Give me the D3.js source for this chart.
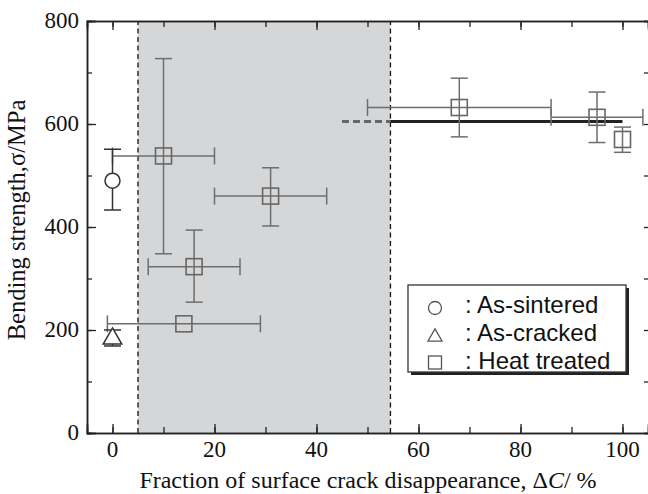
<!DOCTYPE html>
<html>
<head>
<meta charset="utf-8">
<script src="https://cdn.jsdelivr.net/npm/d3@7"></script>
<style>
  body { margin: 0; background: #fff; }
  text { font-family: "Liberation Serif", "Times New Roman", serif; }
  .legend text { font-family: "Liberation Sans", Arial, sans-serif; }
</style>
</head>
<body>
<svg id="chart" width="648" height="494"></svg>
<script>
// shaded band where cracks heal (x range, %)
let band = [5, 54.5];

// reference strength level: dashed part then solid part
let refLevel = 605;
let refDashed = [45, 54.5];
let refSolid = [54.5, 100];

// as-sintered: x, y, yLow, yHigh
let sintered = [
    { x: 0, y: 490, ylo: 433, yhi: 551 }
];

// as-cracked
let cracked = [
    { x: 0, y: 185, ylo: 169, yhi: 200 }
];

// heat treated: x, y, x error range, y error range
let heatX    = [10, 31, 16, 14, 68, 95, 100];
let heatY    = [538, 460, 323, 212, 632, 613, 570];
let heatXlo  = [0, 20, 7, -1, 50, 86, null];
let heatXhi  = [20, 42, 25, 29, 86, 104, null];
let heatYlo  = [348, 402, 254, null, 575, 564, 545];
let heatYhi  = [727, 515, 394, null, 689, 662, 594];

let legendLabels = [": As-sintered", ": As-cracked", ": Heat treated"];

let xTicks = [0, 20, 40, 60, 80, 100];
let yTicks = [0, 200, 400, 600, 800];

let padL = 87, padR = 648, padT = 21, padB = 433;

let svg = d3.select('#chart');

let x = d3.scaleLinear().domain([-5, 105]).range([padL, padR]);
let y = d3.scaleLinear().domain([0, 800]).range([padB, padT]);

// shaded region
svg.append("rect")
    .attr("x", x(band[0]))
    .attr("y", y(800))
    .attr("width", x(band[1]) - x(band[0]))
    .attr("height", y(0) - y(800))
    .attr("fill", "#d5d6d8");

band.forEach(function (b) {
    svg.append("line")
        .attr("x1", x(b)).attr("x2", x(b))
        .attr("y1", y(0)).attr("y2", y(800))
        .attr("stroke", "#111")
        .attr("stroke-width", 1.3)
        .attr("stroke-dasharray", "5,3.5");
});

// axes with inward ticks
function inward(axis, size) {
    return axis.tickSize(size).tickFormat("");
}

let xMinor = d3.range(0, 110, 10);
let yMinor = d3.range(0, 900, 100);

svg.append("g").attr("transform", "translate(0," + padB + ")")
    .call(inward(d3.axisTop(x).tickValues(xMinor), 6));
svg.append("g").attr("transform", "translate(0," + padB + ")")
    .call(inward(d3.axisTop(x).tickValues(xTicks), 9));
svg.append("g").attr("transform", "translate(0," + padT + ")")
    .call(inward(d3.axisBottom(x).tickValues(xMinor), 6));
svg.append("g").attr("transform", "translate(0," + padT + ")")
    .call(inward(d3.axisBottom(x).tickValues(xTicks), 9));
svg.append("g").attr("transform", "translate(" + padL + ",0)")
    .call(inward(d3.axisRight(y).tickValues(yMinor), 5));
svg.append("g").attr("transform", "translate(" + padL + ",0)")
    .call(inward(d3.axisRight(y).tickValues(yTicks), 9));
svg.append("g").attr("transform", "translate(" + (padR + 2) + ",0)")
    .call(inward(d3.axisLeft(y).tickValues(yMinor), 6));

svg.selectAll(".domain").attr("stroke", "#222").attr("stroke-width", 1.5);
svg.selectAll(".tick line").attr("stroke", "#222").attr("stroke-width", 1.3);

// tick labels
svg.append("g").selectAll("text")
    .data(xTicks).enter().append("text")
    .attr("x", function (d) { return x(d); })
    .attr("y", 457)
    .attr("text-anchor", "middle")
    .attr("font-size", 23)
    .attr("fill", "#111")
    .text(function (d) { return d; });

svg.append("g").selectAll("text")
    .data(yTicks).enter().append("text")
    .attr("x", 79)
    .attr("y", function (d) { return y(d) + 7; })
    .attr("text-anchor", "end")
    .attr("font-size", 23)
    .attr("fill", "#111")
    .text(function (d) { return d; });

// axis titles
let xt = svg.append("text")
    .attr("x", 368).attr("y", 488)
    .attr("text-anchor", "middle")
    .attr("font-size", 24)
    .attr("fill", "#111");
xt.append("tspan").text("Fraction of surface crack disappearance, \u0394");
xt.append("tspan").attr("font-style", "italic").text("C");
xt.append("tspan").text("/ %");

svg.append("text")
    .attr("transform", "translate(25,220) rotate(-90)")
    .attr("text-anchor", "middle")
    .attr("font-size", 24.5)
    .attr("fill", "#111")
    .text("Bending strength,\u03c3/MPa");

// reference line
svg.append("line")
    .attr("x1", x(refDashed[0])).attr("x2", x(refDashed[1]))
    .attr("y1", y(refLevel)).attr("y2", y(refLevel))
    .attr("stroke", "#666").attr("stroke-width", 3)
    .attr("stroke-dasharray", "7,4");
svg.append("line")
    .attr("x1", x(refSolid[0])).attr("x2", x(refSolid[1]))
    .attr("y1", y(refLevel)).attr("y2", y(refLevel))
    .attr("stroke", "#222").attr("stroke-width", 3);

let errColor = "#6e6e6e";
let cap = 8.5;

function vErr(g, cx, lo, hi, color) {
    g.append("line").attr("x1", x(cx)).attr("x2", x(cx))
        .attr("y1", y(lo)).attr("y2", y(hi))
        .attr("stroke", color).attr("stroke-width", 1.5);
    [lo, hi].forEach(function (v) {
        g.append("line").attr("x1", x(cx) - cap).attr("x2", x(cx) + cap)
            .attr("y1", y(v)).attr("y2", y(v))
            .attr("stroke", color).attr("stroke-width", 1.5);
    });
}

function hErr(g, cy, lo, hi, color) {
    g.append("line").attr("x1", x(lo)).attr("x2", x(hi))
        .attr("y1", y(cy)).attr("y2", y(cy))
        .attr("stroke", color).attr("stroke-width", 1.5);
    [lo, hi].forEach(function (v) {
        g.append("line").attr("x1", x(v)).attr("x2", x(v))
            .attr("y1", y(cy) - cap).attr("y2", y(cy) + cap)
            .attr("stroke", color).attr("stroke-width", 1.5);
    });
}

let marks = svg.append("g");

// heat treated
heatX.forEach(function (hx, i) {
    if (heatYlo[i] !== null) vErr(marks, hx, heatYlo[i], heatYhi[i], errColor);
    if (heatXlo[i] !== null) hErr(marks, heatY[i], heatXlo[i], heatXhi[i], errColor);
});
marks.selectAll(".sq")
    .data(heatX).enter().append("rect")
    .attr("x", function (d) { return x(d) - 8; })
    .attr("y", function (d, i) { return y(heatY[i]) - 8; })
    .attr("width", 16).attr("height", 16)
    .attr("fill", "none")
    .attr("stroke", "#666")
    .attr("stroke-width", 1.6);

// as-sintered
sintered.forEach(function (d) {
    vErr(marks, d.x, d.ylo, d.yhi, "#333");
});
marks.selectAll(".circ")
    .data(sintered).enter().append("circle")
    .attr("cx", function (d) { return x(d.x); })
    .attr("cy", function (d) { return y(d.y); })
    .attr("r", 7.5)
    .attr("fill", "#fff")
    .attr("stroke", "#333")
    .attr("stroke-width", 1.5);

// as-cracked
cracked.forEach(function (d) {
    vErr(marks, d.x, d.ylo, d.yhi, "#333");
});
let tri = d3.symbol().type(d3.symbolTriangle).size(150);
marks.selectAll(".tri")
    .data(cracked).enter().append("path")
    .attr("d", tri)
    .attr("transform", function (d) { return "translate(" + x(d.x) + "," + (y(d.y) + 1) + ")"; })
    .attr("fill", "#fff")
    .attr("stroke", "#333")
    .attr("stroke-width", 1.5);

// legend
let lg = svg.append("g").attr("class", "legend").attr("transform", "translate(408,285)");
lg.append("rect").attr("x", 3).attr("y", 3).attr("width", 218).attr("height", 87).attr("fill", "#222");
lg.append("rect").attr("width", 218).attr("height", 87)
    .attr("fill", "#fff").attr("stroke", "#333").attr("stroke-width", 1.3);

lg.append("circle").attr("cx", 27).attr("cy", 23).attr("r", 6.5)
    .attr("fill", "none").attr("stroke", "#555").attr("stroke-width", 1.3);
lg.append("path").attr("d", d3.symbol().type(d3.symbolTriangle).size(85))
    .attr("transform", "translate(27,52)")
    .attr("fill", "none").attr("stroke", "#555").attr("stroke-width", 1.3);
lg.append("rect").attr("x", 20.5).attr("y", 71).attr("width", 13).attr("height", 13)
    .attr("fill", "none").attr("stroke", "#555").attr("stroke-width", 1.3);

lg.selectAll(".lab")
    .data(legendLabels).enter().append("text")
    .attr("x", 57)
    .attr("y", function (d, i) { return 28 + i * 28; })
    .attr("font-size", 24)
    .attr("fill", "#111")
    .text(function (d) { return d; });
</script>
</body>
</html>
